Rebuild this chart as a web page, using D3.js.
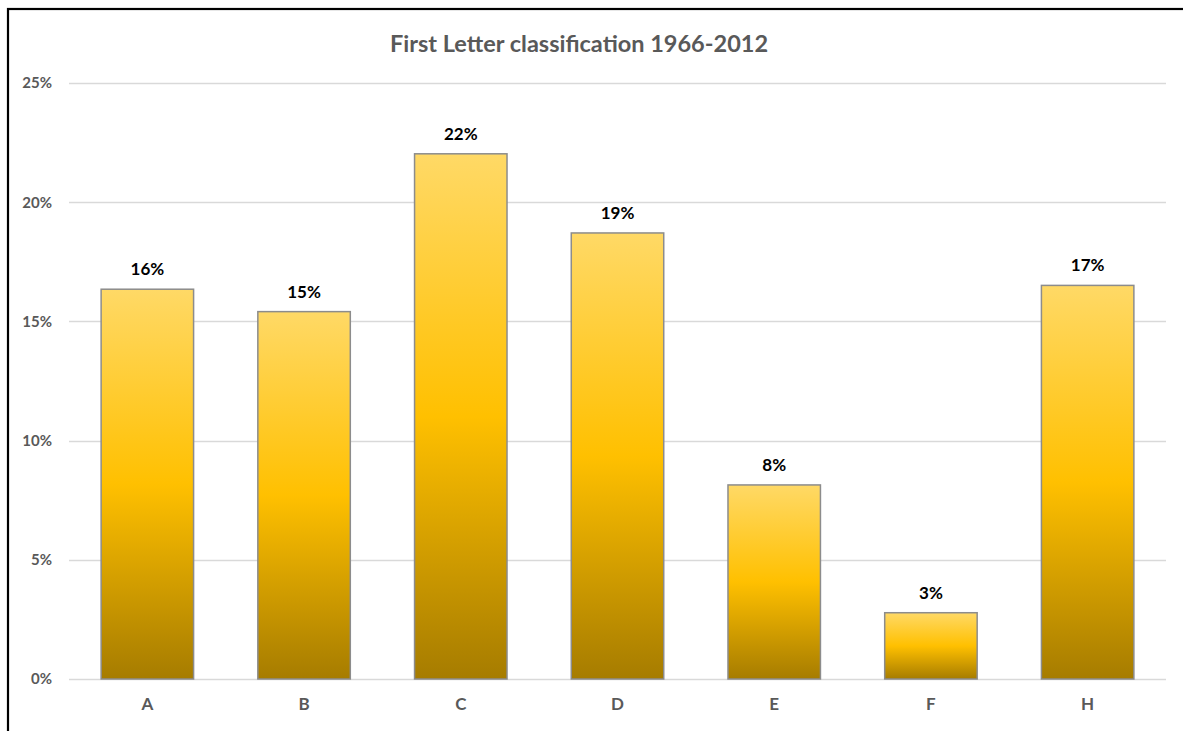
<!DOCTYPE html>
<html><head><meta charset="utf-8">
<script src="https://cdn.jsdelivr.net/npm/d3@7"></script>
<style>body{margin:0;background:#fff;overflow:hidden}svg{display:block}</style>
</head><body>
<svg id="c" width="1183" height="731"></svg>
<script>
const categories = ["A","B","C","D","E","F","H"];
const values = [16.35, 15.41, 22.03, 18.71, 8.14, 2.78, 16.51];
const yTicks = [0, 5, 10, 15, 20, 25];
const title = "First Letter classification 1966-2012";

const svg = d3.select("#c");
const W = 1183, H = 731;
const m = {left: 69, right: 1166, top: 83, bottom: 679};
const FONT = "Lato, 'Open Sans', sans-serif";

svg.append("rect").attr("x", 8).attr("y", 9).attr("width", W + 20).attr("height", H + 20)
  .attr("fill", "#fff").attr("stroke", "#000").attr("stroke-width", 2.2);

const x = d3.scaleBand().domain(categories).range([m.left, m.right]).paddingInner(0.41).paddingOuter(0.205);
const y = d3.scaleLinear().domain([0, 25]).range([m.bottom, m.top]);

const defs = svg.append("defs");
const g = defs.append("linearGradient").attr("id", "gold").attr("x1", 0).attr("y1", 0).attr("x2", 0).attr("y2", 1);
g.append("stop").attr("offset", "0%").attr("stop-color", "#FFD966");
g.append("stop").attr("offset", "50%").attr("stop-color", "#FFC000");
g.append("stop").attr("offset", "100%").attr("stop-color", "#A67C00");

// gridlines
svg.append("g").selectAll("line").data(yTicks).join("line")
  .attr("x1", m.left).attr("x2", m.right)
  .attr("y1", d => Math.round(y(d)) + 0.5).attr("y2", d => Math.round(y(d)) + 0.5)
  .attr("stroke", "#D9D9D9").attr("stroke-width", 1.3);

// y labels
const yAxis = d3.axisLeft(y).tickValues(yTicks).tickFormat(d => d + "%").tickSize(0).tickPadding(0);
const ya = svg.append("g").attr("transform", `translate(52,0)`).call(yAxis);
ya.select(".domain").remove();
ya.selectAll("text").attr("font-family", FONT).attr("font-weight", "bold")
  .attr("font-size", 15).attr("fill", "#595959");

// x labels
const xAxis = d3.axisBottom(x).tickSize(0).tickPadding(0);
const xa = svg.append("g").attr("transform", `translate(0,${m.bottom + 19})`).call(xAxis);
xa.select(".domain").remove();
xa.selectAll("text").attr("font-family", FONT).attr("font-weight", "bold")
  .attr("font-size", 17).attr("fill", "#595959");

// bars
svg.append("g").selectAll("rect").data(values).join("rect")
  .attr("x", (d, i) => x(categories[i]))
  .attr("width", x.bandwidth())
  .attr("y", d => y(d))
  .attr("height", d => y(0) - y(d))
  .attr("fill", "url(#gold)")
  .attr("stroke", "#8C8C8C").attr("stroke-width", 1.5);

// labels
svg.append("g").selectAll("text").data(values).join("text")
  .attr("x", (d, i) => x(categories[i]) + x.bandwidth() / 2)
  .attr("y", d => y(d) - 14)
  .attr("text-anchor", "middle")
  .attr("font-family", FONT).attr("font-weight", "bold")
  .attr("font-size", 17).attr("fill", "#000")
  .text(d => Math.round(d) + "%");

svg.append("text").attr("x", 579).attr("y", 52).attr("text-anchor", "middle")
  .attr("font-family", FONT).attr("font-weight", "bold")
  .attr("font-size", 23.5).attr("fill", "#595959").text(title);
</script>
</body></html>
